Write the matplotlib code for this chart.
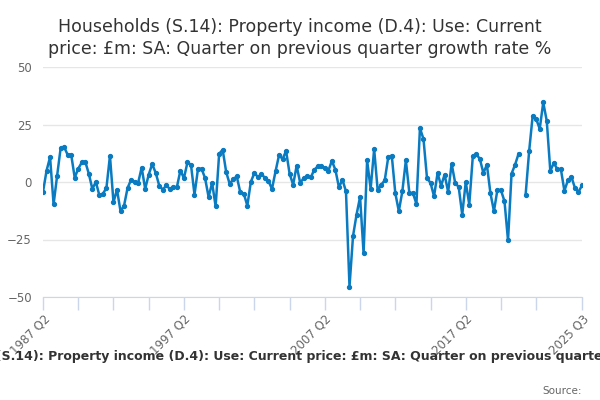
import numpy as np
import matplotlib
matplotlib.use("Agg")
import matplotlib.pyplot as plt

# Quarterly growth rate, 1987 Q2 to 2025 Q3 (nan = no value)
growth = [
    -4.3, 4.9, 10.8, -9.7, 2.7, 14.7, 15.2, 11.8, 11.8, 1.9,
    5.8, 8.5, 8.8, 3.6, -3.0, 0.0, -5.8, -5.1, -2.6, 11.4,
    -8.8, -3.3, -12.7, -10.3, -2.6, 1.0, 0.0, -0.4, 6.3, -3.0,
    3.2, 7.8, 3.9, -1.6, -3.3, -1.5, -3.0, -2.3, -2.2, 5.0,
    1.7, 8.5, 7.5, -5.5, 5.8, 5.8, 1.7, -6.5, -0.4, -10.6,
    12.3, 14.0, 4.3, -0.9, 1.3, 2.4, -4.5, -5.1, -10.3, 0.1,
    3.9, 2.2, 3.3, 1.9, 0.4, -3.0, 4.6, 11.7, 10.0, 13.5,
    3.6, -1.2, 7.1, -0.4, 1.7, 2.4, 2.0, 5.3, 6.8, 6.8,
    6.3, 4.9, 9.2, 5.3, -2.3, 1.0, -4.1, -45.5, -23.5, -14.2,
    -6.5, -31.0, 9.4, -3.0, 14.3, -3.6, -1.2, 0.7, 10.8, 11.5,
    -4.8, -12.7, -4.1, 9.4, -4.8, -4.8, -9.5, 23.4, 18.7, 1.7,
    -0.4, -6.2, 3.9, -1.6, 3.2, -4.3, 7.9, -0.4, -2.2, -14.2,
    0.0, -9.8, 11.1, 12.0, 10.1, 3.9, 7.5, -4.8, -12.7, -3.3,
    -3.6, -8.4, -25.4, 3.6, 7.5, 12.3, np.nan, -5.5, 13.5, 28.8,
    27.4, 23.1, 34.6, 26.5, 4.9, 8.2, 5.6, 5.6, -3.8, 0.7,
    2.2, -2.6, -4.3, -1.5,
]

# quarter labels for every point
quarters = []
y, q = 1987, 2
for _ in growth:
    quarters.append(f"{y} Q{q}")
    q += 1
    if q > 4:
        q = 1
        y += 1

label_quarters = ["1987 Q2", "1997 Q2", "2007 Q2", "2017 Q2", "2025 Q3"]
y_ticks = [-50, -25, 0, 25, 50]

title = ("Households (S.14): Property income (D.4): Use: Current\n"
         "price: £m: SA: Quarter on previous quarter growth rate %")
legend_text = ("Households (S.14): Property income (D.4): Use: Current price: "
               "£m: SA: Quarter on previous quarter growth rate %")

x = np.arange(len(growth))

fig = plt.figure(figsize=(6, 4), dpi=100)
ax = fig.add_axes([0.0717, 0.2575, 0.8983, 0.575])

ax.plot(x, growth, color="#0a7bc1", lw=1.8, marker="o", ms=2.8, zorder=3)

ax.set_xlim(0, len(growth) - 1)
ax.set_ylim(-50, 50)
ax.set_yticks(y_ticks)
ax.grid(axis="y", color="#e6e6e6", lw=1)
ax.set_axisbelow(True)

# ticks every 10 quarters, labels only on some
tick_pos = list(range(0, 150, 10)) + [len(growth) - 1]
ax.set_xticks(tick_pos)
ax.set_xticklabels([quarters[i] if quarters[i] in label_quarters else "" for i in tick_pos],
                   rotation=45, ha="right", rotation_mode="anchor")
ax.tick_params(axis="x", direction="out", length=9, width=1, color="#ccd6eb",
               labelcolor="#666666", labelsize=8.5, pad=2)
ax.tick_params(axis="y", length=0, labelcolor="#666666", labelsize=8.5, pad=8)

for s in ["top", "right", "left"]:
    ax.spines[s].set_visible(False)
ax.spines["bottom"].set_color("#ccd6eb")
ax.spines["bottom"].set_zorder(4)

fig.text(0.5, 0.955, title, ha="center", va="top", fontsize=12.5,
         color="#333333", linespacing=1.25)
fig.text(0.52, 0.108, legend_text, ha="center", va="center", fontsize=9,
         fontweight="bold", color="#333333")
fig.text(0.97, 0.022, "Source:", ha="right", va="center", fontsize=7.5,
         color="#666666")

fig.savefig("out.png", dpi=100)
